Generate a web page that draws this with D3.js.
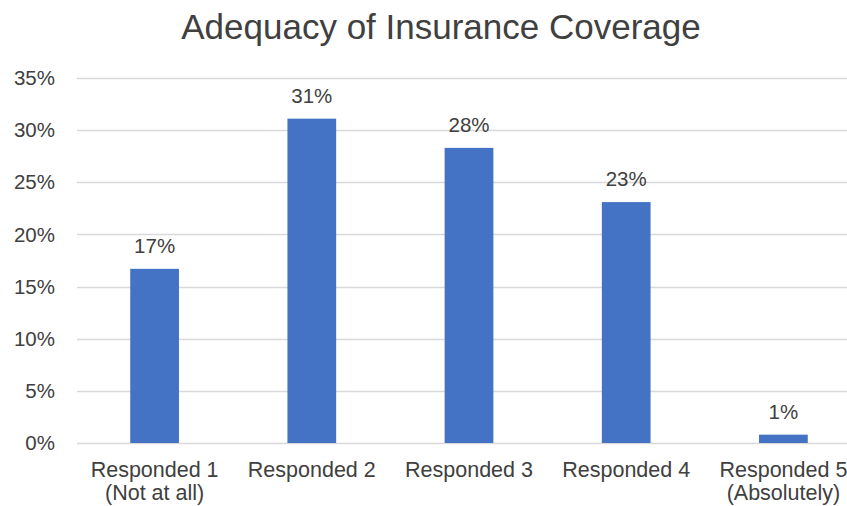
<!DOCTYPE html>
<meta charset="utf-8">
<title>Adequacy of Insurance Coverage</title>
<style>
body { margin: 0; background: #fff; overflow: hidden; }
text { font-family: "Liberation Sans", Arial, sans-serif; fill: #404040; }
</style>
<svg></svg>
<script src="https://cdn.jsdelivr.net/npm/d3@7/dist/d3.min.js"></script>
<script>
var categories = ["Responded 1|(Not at all)", "Responded 2", "Responded 3", "Responded 4", "Responded 5|(Absolutely)"];
var values = [16.7, 31.1, 28.3, 23.1, 0.8];
var valueLabels = ["17%", "31%", "28%", "23%", "1%"];
var yTicks = [0, 5, 10, 15, 20, 25, 30, 35];

var width = 847, height = 506;

var svg = d3.select("svg")
  .attr("width", width)
  .attr("height", height);

var x = d3.scaleBand()
  .domain(categories)
  .range([76, 862])
  .paddingInner(0.69)
  .paddingOuter(0.345);

var y = d3.scaleLinear()
  .domain([0, 35])
  .range([443, 78]);

// gridlines
svg.append("g")
  .selectAll("line")
  .data(yTicks)
  .enter()
  .append("line")
  .attr("x1", 77)
  .attr("x2", width)
  .attr("y1", d => Math.round(y(d)) + 0.5)
  .attr("y2", d => Math.round(y(d)) + 0.5)
  .attr("stroke", "#d9d9d9")
  .attr("stroke-width", 1.5);

// y labels
svg.append("g")
  .selectAll("text")
  .data(yTicks)
  .enter()
  .append("text")
  .attr("x", 55)
  .attr("y", d => y(d))
  .attr("dy", "0.35em")
  .attr("text-anchor", "end")
  .attr("font-size", 20.5)
  .text(d => d + "%");

// bars
svg.append("g")
  .selectAll("rect")
  .data(values)
  .enter()
  .append("rect")
  .attr("x", (d, i) => x(categories[i]))
  .attr("width", x.bandwidth())
  .attr("y", d => y(d))
  .attr("height", d => y(0) - y(d))
  .attr("fill", "#4472c4");

// value labels
svg.append("g")
  .selectAll("text")
  .data(values)
  .enter()
  .append("text")
  .attr("x", (d, i) => x(categories[i]) + x.bandwidth() / 2)
  .attr("y", d => y(d) - 16)
  .attr("text-anchor", "middle")
  .attr("font-size", 20.5)
  .text((d, i) => valueLabels[i]);

// category labels
var cat = svg.append("g")
  .selectAll("text")
  .data(categories)
  .enter()
  .append("text")
  .attr("text-anchor", "middle")
  .attr("font-size", 21.5)
  .attr("transform", d => "translate(" + (x(d) + x.bandwidth() / 2) + ",477)");

cat.selectAll("tspan")
  .data(d => d.split("|"))
  .enter()
  .append("tspan")
  .attr("x", 0)
  .attr("dy", (d, i) => i === 0 ? 0 : 23)
  .text(d => d);

// title
svg.append("text")
  .attr("x", 441)
  .attr("y", 39)
  .attr("text-anchor", "middle")
  .attr("font-size", 35)
  .text("Adequacy of Insurance Coverage");
</script>
